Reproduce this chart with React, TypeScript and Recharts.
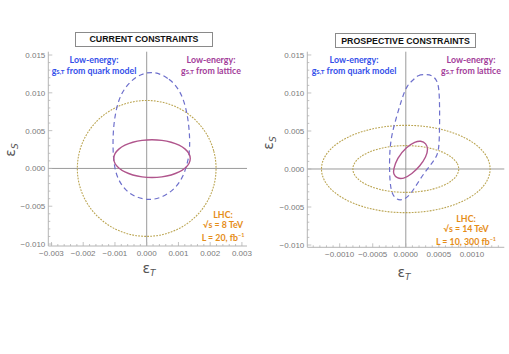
import { ScatterChart, Scatter, XAxis, YAxis, ReferenceLine } from 'recharts'
import type { ReactNode } from 'react'

type Pt = [number, number]

// ---- current constraints (left panel) ----
// LHC 8 TeV, 20 fb^-1 (dotted, gold)
const lhcNow: Pt[] = [
  [0.00221, 0], [0.002135, 0.002353], [0.001914, 0.004545], [0.001563, 0.006428],
  [0.001105, 0.007872], [0.000572, 0.00878], [0, 0.00909], [-0.000572, 0.00878],
  [-0.001105, 0.007872], [-0.001563, 0.006428], [-0.001914, 0.004545], [-0.002135, 0.002353],
  [-0.00221, 0], [-0.002135, -0.002353], [-0.001914, -0.004545], [-0.001563, -0.006428],
  [-0.001105, -0.007872], [-0.000572, -0.00878], [0, -0.00909], [0.000572, -0.00878],
  [0.001105, -0.007872], [0.001563, -0.006428], [0.001914, -0.004545], [0.002135, -0.002353],
]
// low-energy, g_S,T from quark model (dashed, blue)
const quarkNow: Pt[] = [
  [0.000208, 0.01296], [0.000735, 0.01187], [0.00105, 0.01032], [0.00124, 0.00811],
  [0.00134, 0.00546], [0.001366, 0.00282], [0.00131, 0.00106], [0.00115, -0.00115],
  [0.00089, -0.00269], [0.00052, -0.0038], [0.000104, -0.00423], [-0.000315, -0.00388],
  [-0.000685, -0.00291], [-0.00095, -0.00115], [-0.00105, 0.00106], [-0.00107, 0.0037],
  [-0.00103, 0.00635], [-0.0009, 0.009], [-0.000685, 0.01075], [-0.000315, 0.0123],
]
// low-energy, g_S,T from lattice (solid, purple)
const latticeNow: Pt[] = [
  [0.001387, 0.0013], [0.001345, 0.001955], [0.001224, 0.002565], [0.00103, 0.003089],
  [0.000777, 0.003491], [0.000483, 0.003744], [0.000167, 0.00383], [-0.000149, 0.003744],
  [-0.000443, 0.003491], [-0.000696, 0.003089], [-0.00089, 0.002565], [-0.001011, 0.001955],
  [-0.001053, 0.0013], [-0.001011, 0.000645], [-0.00089, 0.000035], [-0.000696, -0.000489],
  [-0.000443, -0.000891], [-0.000149, -0.001144], [0.000167, -0.00123], [0.000483, -0.001144],
  [0.000777, -0.000891], [0.00103, -0.000489], [0.001224, 0.000035], [0.001345, 0.000645],
]

// ---- prospective constraints (right panel) ----
// LHC 14 TeV, 10 fb^-1 (outer)
const lhc10: Pt[] = [
  [0.00129, 0], [0.001246, 0.001504], [0.001117, 0.002905], [0.000912, 0.004108],
  [0.000645, 0.005032], [0.000334, 0.005612], [0, 0.00581], [-0.000334, 0.005612],
  [-0.000645, 0.005032], [-0.000912, 0.004108], [-0.001117, 0.002905], [-0.001246, 0.001504],
  [-0.00129, 0], [-0.001246, -0.001504], [-0.001117, -0.002905], [-0.000912, -0.004108],
  [-0.000645, -0.005032], [-0.000334, -0.005612], [0, -0.00581], [0.000334, -0.005612],
  [0.000645, -0.005032], [0.000912, -0.004108], [0.001117, -0.002905], [0.001246, -0.001504],
]
// LHC 14 TeV, 300 fb^-1 (inner)
const lhc300: Pt[] = [
  [0.00081, 0], [0.000782, 0.000805], [0.000701, 0.001555], [0.000573, 0.002199],
  [0.000405, 0.002693], [0.00021, 0.003004], [0, 0.00311], [-0.00021, 0.003004],
  [-0.000405, 0.002693], [-0.000573, 0.002199], [-0.000701, 0.001555], [-0.000782, 0.000805],
  [-0.00081, 0], [-0.000782, -0.000805], [-0.000701, -0.001555], [-0.000573, -0.002199],
  [-0.000405, -0.002693], [-0.00021, -0.003004], [0, -0.00311], [0.00021, -0.003004],
  [0.000405, -0.002693], [0.000573, -0.002199], [0.000701, -0.001555], [0.000782, -0.000805],
]
const quarkFuture: Pt[] = [
  [0.000115, 0.01171], [0.000182, 0.01237], [0.000292, 0.01243], [0.000394, 0.01237],
  [0.00047, 0.01171], [0.000502, 0.01066], [0.000512, 0.00842], [0.000512, 0.00579],
  [0.000505, 0.00316], [0.000482, 0.00184], [0.000398, 0.00079], [0.000277, -0.00053],
  [0.000171, -0.00197], [0.000065, -0.00342], [-0.000036, -0.00408], [-0.000136, -0.00408],
  [-0.000212, -0.00329], [-0.000241, -0.00171], [-0.000248, 0.00053], [-0.000241, 0.00276],
  [-0.000208, 0.00474], [-0.000132, 0.00711], [-0.000056, 0.00934], [0.00002, 0.01105],
]
const latticeFuture: Pt[] = [
  [-0.000188, -0.00013], [-0.000136, 0.00141], [0.000015, 0.00293], [0.000141, 0.00359],
  [0.000227, 0.00372], [0.000308, 0.00338], [0.000338, 0.00259], [0.000308, 0.00162],
  [0.000217, 0.00039], [0.000091, -0.00066], [-0.000036, -0.00132], [-0.000136, -0.00122],
  [-0.000188, -0.00066],
]

const xTicksNow = [-0.003, -0.002, -0.001, 0, 0.001, 0.002, 0.003]
const xTicksFuture = [-0.001, -0.0005, 0, 0.0005, 0.001]
const yTicks = [-0.01, -0.005, 0, 0.005, 0.01, 0.015]

const FRAME = '#b4b4b4'
const AXIS0 = '#9a9a9a'
const TICK_TEXT = '#7a7a7a'
const GOLD = '#bba552'
const BLUE_LINE = '#6e70cc'
const PURPLE_LINE = '#b0558c'
const BLUE_TEXT = '#3450ea'
const PURPLE_TEXT = '#a33d9a'
const ORANGE_TEXT = '#e58d17'

const toXY = (pts: Pt[]) => pts.map(([x, y]) => ({ x, y }))
const noDot = () => <g />

const fmt = (v: number, digits: number) =>
  (v < -1e-12 ? '\u2212' : '') + Math.abs(v).toFixed(digits)

function frameTicks(step: number, domain: [number, number]) {
  const out: number[] = []
  const start = Math.ceil(domain[0] / step - 1e-6)
  const end = Math.floor(domain[1] / step + 1e-6)
  for (let i = start; i <= end; i++) out.push(+(i * step).toFixed(8))
  return out
}

type Side = 'bottom' | 'left' | 'top' | 'right'

function makeTick(side: Side, majors: number[], digits: number) {
  return (props: any) => {
    const { x, y, payload } = props
    const v = payload.value as number
    const major = majors.some((m) => Math.abs(m - v) < 1e-9)
    const len = major ? 4 : 2
    let x2 = x
    let y2 = y
    if (side === 'bottom') y2 = y - len
    if (side === 'top') y2 = y + len
    if (side === 'left') x2 = x + len
    if (side === 'right') x2 = x - len
    return (
      <g>
        <line x1={x} y1={y} x2={x2} y2={y2} stroke={FRAME} strokeWidth={0.8} />
        {major && side === 'bottom' && (
          <text x={x} y={y + 10} textAnchor="middle" fontSize={8} fill={TICK_TEXT}>
            {fmt(v, digits)}
          </text>
        )}
        {major && side === 'left' && (
          <text x={x - 3} y={y + 3} textAnchor="end" fontSize={8} fill={TICK_TEXT}>
            {fmt(v, digits)}
          </text>
        )}
      </g>
    )
  }
}

interface PanelProps {
  left: number
  width: number
  margin: { top: number; right: number; bottom: number; left: number }
  xDomain: [number, number]
  yDomain: [number, number]
  xMajors: number[]
  xMinorStep: number
  xDigits: number
  lhc: Pt[][]
  quark: Pt[]
  lattice: Pt[]
}

function Panel({ left, width, margin, xDomain, yDomain, xMajors, xMinorStep, xDigits, lhc, quark, lattice }: PanelProps) {
  const xAll = frameTicks(xMinorStep, xDomain)
  const yAll = frameTicks(0.001, yDomain)
  return (
    <div style={{ position: 'absolute', left, top: 0 }}>
      <ScatterChart width={width} height={354} margin={margin}>
        <XAxis
          xAxisId="x" dataKey="x" type="number" domain={xDomain} allowDataOverflow
          ticks={xAll} interval={0} tickSize={0} tickMargin={0} tickLine={false}
          tick={makeTick('bottom', xMajors, xDigits)} axisLine={{ stroke: FRAME }} height={20}
        />
        <XAxis
          xAxisId="xt" orientation="top" type="number" domain={xDomain} allowDataOverflow
          ticks={xAll} interval={0} tickSize={0} tickMargin={0} tickLine={false}
          tick={makeTick('top', xMajors, xDigits)} axisLine={{ stroke: FRAME }} height={0}
        />
        <YAxis
          yAxisId="y" dataKey="y" type="number" domain={yDomain} allowDataOverflow
          ticks={yAll} interval={0} tickSize={0} tickMargin={0} tickLine={false}
          tick={makeTick('left', yTicks, 3)} axisLine={{ stroke: FRAME }} width={40}
        />
        <YAxis
          yAxisId="yr" orientation="right" type="number" domain={yDomain} allowDataOverflow
          ticks={yAll} interval={0} tickSize={0} tickMargin={0} tickLine={false}
          tick={makeTick('right', yTicks, 3)} axisLine={{ stroke: FRAME }} width={0}
        />
        <ReferenceLine x={0} xAxisId="x" yAxisId="y" stroke={AXIS0} strokeWidth={1} />
        <ReferenceLine y={0} xAxisId="x" yAxisId="y" stroke={AXIS0} strokeWidth={1} />
        {lhc.map((pts, i) => (
          <Scatter
            key={i} data={toXY(pts)} xAxisId="x" yAxisId="y" fill="none" shape={noDot}
            line={{ stroke: GOLD, strokeWidth: 1.1, strokeDasharray: '1.8 1.2' }}
            lineJointType="basisClosed" isAnimationActive={false}
          />
        ))}
        <Scatter
          data={toXY(quark)} xAxisId="x" yAxisId="y" fill="none" shape={noDot}
          line={{ stroke: BLUE_LINE, strokeWidth: 1.2, strokeDasharray: '5 3.5' }}
          lineJointType="basisClosed" isAnimationActive={false}
        />
        <Scatter
          data={toXY(lattice)} xAxisId="x" yAxisId="y" fill="none" shape={noDot}
          line={{ stroke: PURPLE_LINE, strokeWidth: 1.4 }}
          lineJointType="basisClosed" isAnimationActive={false}
        />
      </ScatterChart>
    </div>
  )
}

const annoFont = { fontFamily: 'Lato, "Open Sans", sans-serif', fontWeight: 700 as const, fontSize: 8.8 }

function Note({ cx, top, color, lh, children }: { cx: number; top: number; color: string; lh: number; children: ReactNode }) {
  return (
    <div
      style={{
        position: 'absolute', left: cx - 70, top, width: 140, textAlign: 'center',
        color, lineHeight: `${lh}px`, whiteSpace: 'nowrap', ...annoFont,
      }}
    >
      {children}
    </div>
  )
}

const gST = (
  <>
    g<span style={{ fontSize: 6.2 }}>S,T</span>
  </>
)

function Title({ left, top, width, text }: { left: number; top: number; width: number; text: string }) {
  return (
    <div
      style={{
        position: 'absolute', left, top, width, height: 15, boxSizing: 'border-box',
        border: '1px solid #8a8a8a', display: 'flex', alignItems: 'center', justifyContent: 'center',
        fontFamily: '"Liberation Sans", Arial, sans-serif', fontWeight: 700, fontSize: 8.8, color: '#111',
      }}
    >
      {text}
    </div>
  )
}

function Eps({ cx, cy, sub, rotate }: { cx: number; cy: number; sub: string; rotate?: boolean }) {
  return (
    <div
      style={{
        position: 'absolute', left: cx - 15, top: cy - 10, width: 30, height: 20, lineHeight: '20px',
        textAlign: 'center', color: '#555', fontFamily: '"DejaVu Sans", sans-serif', fontSize: 14,
        transform: rotate ? 'rotate(-90deg)' : undefined,
      }}
    >
      ε<span style={{ fontSize: 9, fontStyle: 'italic', position: 'relative', top: 3 }}>{sub}</span>
    </div>
  )
}

export default function App() {
  return (
    <div
      style={{
        position: 'absolute', left: 0, top: 0, width: 509, height: 354, background: '#fff',
        overflow: 'hidden', fontFamily: '"Liberation Sans", Arial, sans-serif',
      }}
    >
      <Panel
        left={0} width={255}
        margin={{ top: 51.7, right: 8, bottom: 88, left: 8.3 }}
        xDomain={[-0.0031, 0.00316]} yDomain={[-0.01026, 0.01544]}
        xMajors={xTicksNow} xMinorStep={0.0002} xDigits={3}
        lhc={[lhcNow]} quark={quarkNow} lattice={latticeNow}
      />
      <Panel
        left={255} width={254}
        margin={{ top: 51.7, right: 4.7, bottom: 86.7, left: 12.3 }}
        xDomain={[-0.00149, 0.00149]} yDomain={[-0.0103, 0.01543]}
        xMajors={xTicksFuture} xMinorStep={0.0001} xDigits={4}
        lhc={[lhc10, lhc300]} quark={quarkFuture} lattice={latticeFuture}
      />

      <Title left={75} top={31.7} width={138} text="CURRENT CONSTRAINTS" />
      <Title left={335} top={33} width={141} text="PROSPECTIVE CONSTRAINTS" />

      <Note cx={94} top={53.5} color={BLUE_TEXT} lh={11}>
        Low-energy:<br />{gST} from quark model
      </Note>
      <Note cx={211} top={53.5} color={PURPLE_TEXT} lh={11}>
        Low-energy:<br />{gST} from lattice
      </Note>
      <Note cx={223} top={209.5} color={ORANGE_TEXT} lh={10.1}>
        LHC:<br />√s = 8 TeV<br />L = 20, fb<sup style={{ fontSize: 5.5 }}>−1</sup>
      </Note>

      <Note cx={354} top={53.8} color={BLUE_TEXT} lh={11}>
        Low-energy:<br />{gST} from quark model
      </Note>
      <Note cx={471} top={53.8} color={PURPLE_TEXT} lh={11}>
        Low-energy:<br />{gST} from lattice
      </Note>
      <Note cx={466} top={214} color={ORANGE_TEXT} lh={10.2}>
        LHC:<br />√s = 14 TeV<br />L = 10, 300 fb<sup style={{ fontSize: 5.5 }}>−1</sup>
      </Note>

      <Eps cx={10} cy={150} sub="S" rotate />
      <Eps cx={268} cy={143} sub="S" rotate />
      <Eps cx={149} cy={268} sub="T" />
      <Eps cx={404} cy={272} sub="T" />
    </div>
  )
}
